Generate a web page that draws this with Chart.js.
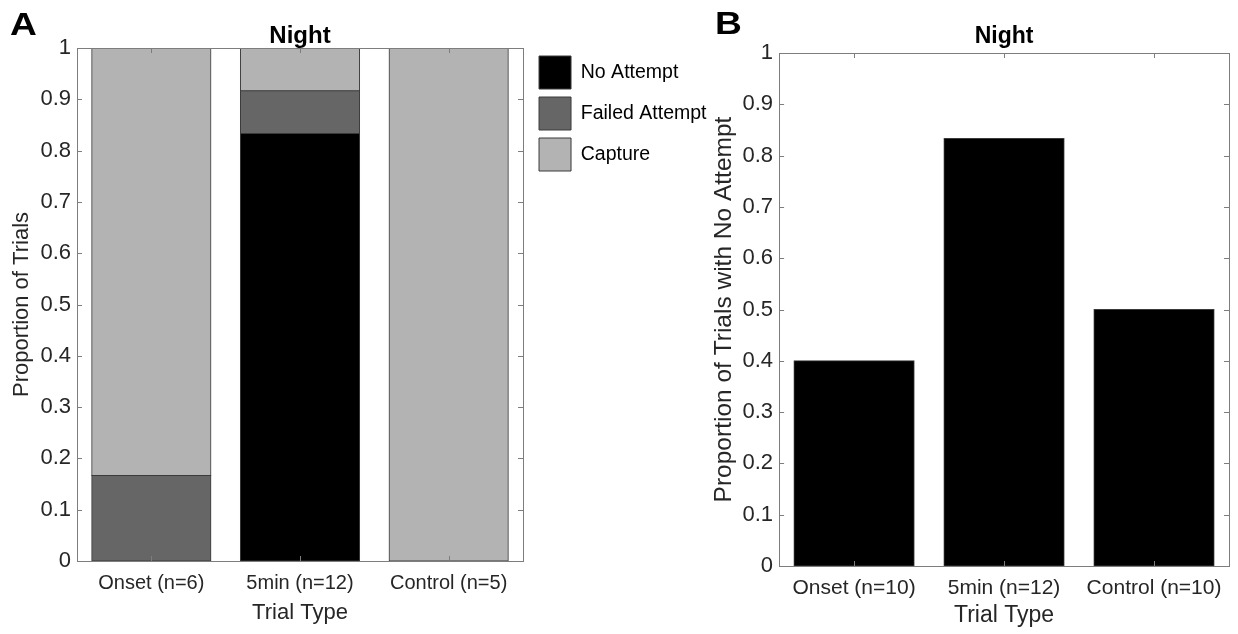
<!DOCTYPE html>
<html>
<head>
<meta charset="utf-8">
<script src="https://cdn.jsdelivr.net/npm/chart.js@4.4.1/dist/chart.umd.min.js"></script>
<style>
  html, body { margin: 0; padding: 0; background: #fff; }
  body { width: 1238px; height: 634px; position: relative; overflow: hidden; }
  canvas { position: absolute; top: 0; }
  #chartA { left: 0; }
  #chartB { left: 700px; }
  .letter { position: absolute; font: bold 31px/31px "Liberation Sans", Arial, sans-serif; color: #000;
            z-index: 2; transform: scaleX(1.2); transform-origin: left top; }
</style>
</head>
<body>
<canvas id="chartA" width="720" height="634"></canvas>
<canvas id="chartB" width="538" height="634"></canvas>
<div class="letter" style="left:10px; top:9px;">A</div>
<div class="letter" style="left:715px; top:8px;">B</div>
<script>
// panel A: outcome of each trial type (stacked proportions)
const categoriesA = ['Onset (n=6)', '5min (n=12)', 'Control (n=5)'];
const noAttemptA = [0, 0.8333, 0];
const failedAttemptA = [0.1667, 0.0833, 0];
const captureA = [0.8333, 0.0833, 1];

// panel B: proportion of trials with no attempt
const categoriesB = ['Onset (n=10)', '5min (n=12)', 'Control (n=10)'];
const noAttemptB = [0.4, 0.8333, 0.5];

const yTickValues = [0, 0.1, 0.2, 0.3, 0.4, 0.5, 0.6, 0.7, 0.8, 0.9, 1];

const TEXT = '#262626';
const AXIS = '#7d7d7d';
const EDGE = '#3a3a3a';

Chart.defaults.font.family = '"Liberation Sans", Arial, sans-serif';
Chart.defaults.color = TEXT;
Chart.defaults.animation = false;
Chart.defaults.plugins.tooltip.enabled = false;

// matlab-like box with inward ticks on all four sides
const boxTicks = {
    id: 'boxTicks',
    afterDatasetsDraw(chart) {
        const {ctx, chartArea: a} = chart;
        const xs = chart.scales.x, ys = chart.scales.y;
        const len = 5;
        ctx.save();
        ctx.strokeStyle = AXIS;
        ctx.lineWidth = 1;
        ctx.beginPath();
        ys.ticks.forEach(t => {
            const py = Math.round(ys.getPixelForValue(t.value)) + 0.5;
            ctx.moveTo(a.left, py); ctx.lineTo(a.left + len, py);
            ctx.moveTo(a.right, py); ctx.lineTo(a.right - len, py);
        });
        xs.ticks.forEach((t, i) => {
            const px = Math.round(xs.getPixelForTick(i)) + 0.5;
            ctx.moveTo(px, a.top); ctx.lineTo(px, a.top + len);
            ctx.moveTo(px, a.bottom); ctx.lineTo(px, a.bottom - len);
        });
        ctx.stroke();
        ctx.strokeRect(Math.round(a.left) + 0.5, Math.round(a.top) + 0.5,
            Math.round(a.right) - Math.round(a.left), Math.round(a.bottom) - Math.round(a.top));
        ctx.restore();
    }
};

function bar(label, data, color) {
    return {
        label: label,
        data: data,
        backgroundColor: color,
        borderColor: EDGE,
        borderWidth: 1,
        borderSkipped: false,
        inflateAmount: 0.6,
        barPercentage: 0.8,
        categoryPercentage: 1
    };
}

// f: font sizes {xt, xl, yt, yl}; pads for the two axis titles
function scales(yTitle, f, xTitlePad, yTitlePad) {
    return {
        x: {
            stacked: true,
            grid: {display: false, drawTicks: false},
            border: {display: false},
            ticks: {font: {size: f.xt}, color: TEXT, padding: 10, maxRotation: 0, autoSkip: false},
            title: {display: true, text: 'Trial Type', font: {size: f.xl, lineHeight: 1}, color: TEXT, padding: xTitlePad}
        },
        y: {
            stacked: true,
            min: 0,
            max: 1,
            afterBuildTicks: s => { s.ticks = yTickValues.map(v => ({value: v})); },
            grid: {display: false, drawTicks: false},
            border: {display: false},
            ticks: {font: {size: f.yt}, color: TEXT, padding: 6, callback: v => String(v)},
            title: {display: true, text: yTitle, font: {size: f.yl, lineHeight: 1}, color: TEXT, padding: yTitlePad}
        }
    };
}

const scalesA = scales('Proportion of Trials', {xt: 20, xl: 22, yt: 22, yl: 22},
    {top: -3, bottom: 0}, {top: 11, bottom: 1.4});
// empty right axis, only keeps the legend clear of the plot box
scalesA.spacer = {
    type: 'linear', axis: 'y', position: 'right', display: true,
    grid: {display: false, drawTicks: true, tickLength: 8},
    border: {display: false},
    ticks: {display: false}
};

const chartA = new Chart('chartA', {
    type: 'bar',
    data: {
        labels: categoriesA,
        datasets: [
            bar('No Attempt', noAttemptA, '#000000'),
            bar('Failed Attempt', failedAttemptA, '#666666'),
            bar('Capture', captureA, '#b3b3b3')
        ]
    },
    options: {
        responsive: false,
        layout: {padding: {left: 0, right: 3.5, top: 0, bottom: 10}},
        scales: scalesA,
        plugins: {
            title: {display: true, text: 'Night', fullSize: false, color: '#000',
                font: {size: 24, weight: 'bold', lineHeight: 1}, padding: {top: 24, bottom: 0}},
            legend: {
                display: true, position: 'right', align: 'start', fullSize: false, maxWidth: 260,
                labels: {boxWidth: 32, boxHeight: 33, padding: 8, color: '#000', font: {size: 19.5}}
            }
        }
    },
    plugins: [boxTicks]
});

const chartB = new Chart('chartB', {
    type: 'bar',
    data: {
        labels: categoriesB,
        datasets: [bar('No Attempt', noAttemptB, '#000000')]
    },
    options: {
        responsive: false,
        layout: {padding: {left: 0, right: 9, top: 0, bottom: 7.1}},
        scales: scales('Proportion of Trials with No Attempt', {xt: 21, xl: 23, yt: 22, yl: 24.5},
            {top: -7.3, bottom: 0}, {top: 12, bottom: 0}),
        plugins: {
            title: {display: true, text: 'Night', fullSize: false, color: '#000',
                font: {size: 23, weight: 'bold', lineHeight: 1}, padding: {top: 25, bottom: 5}},
            legend: {display: false}
        }
    },
    plugins: [boxTicks]
});
</script>
</body>
</html>
